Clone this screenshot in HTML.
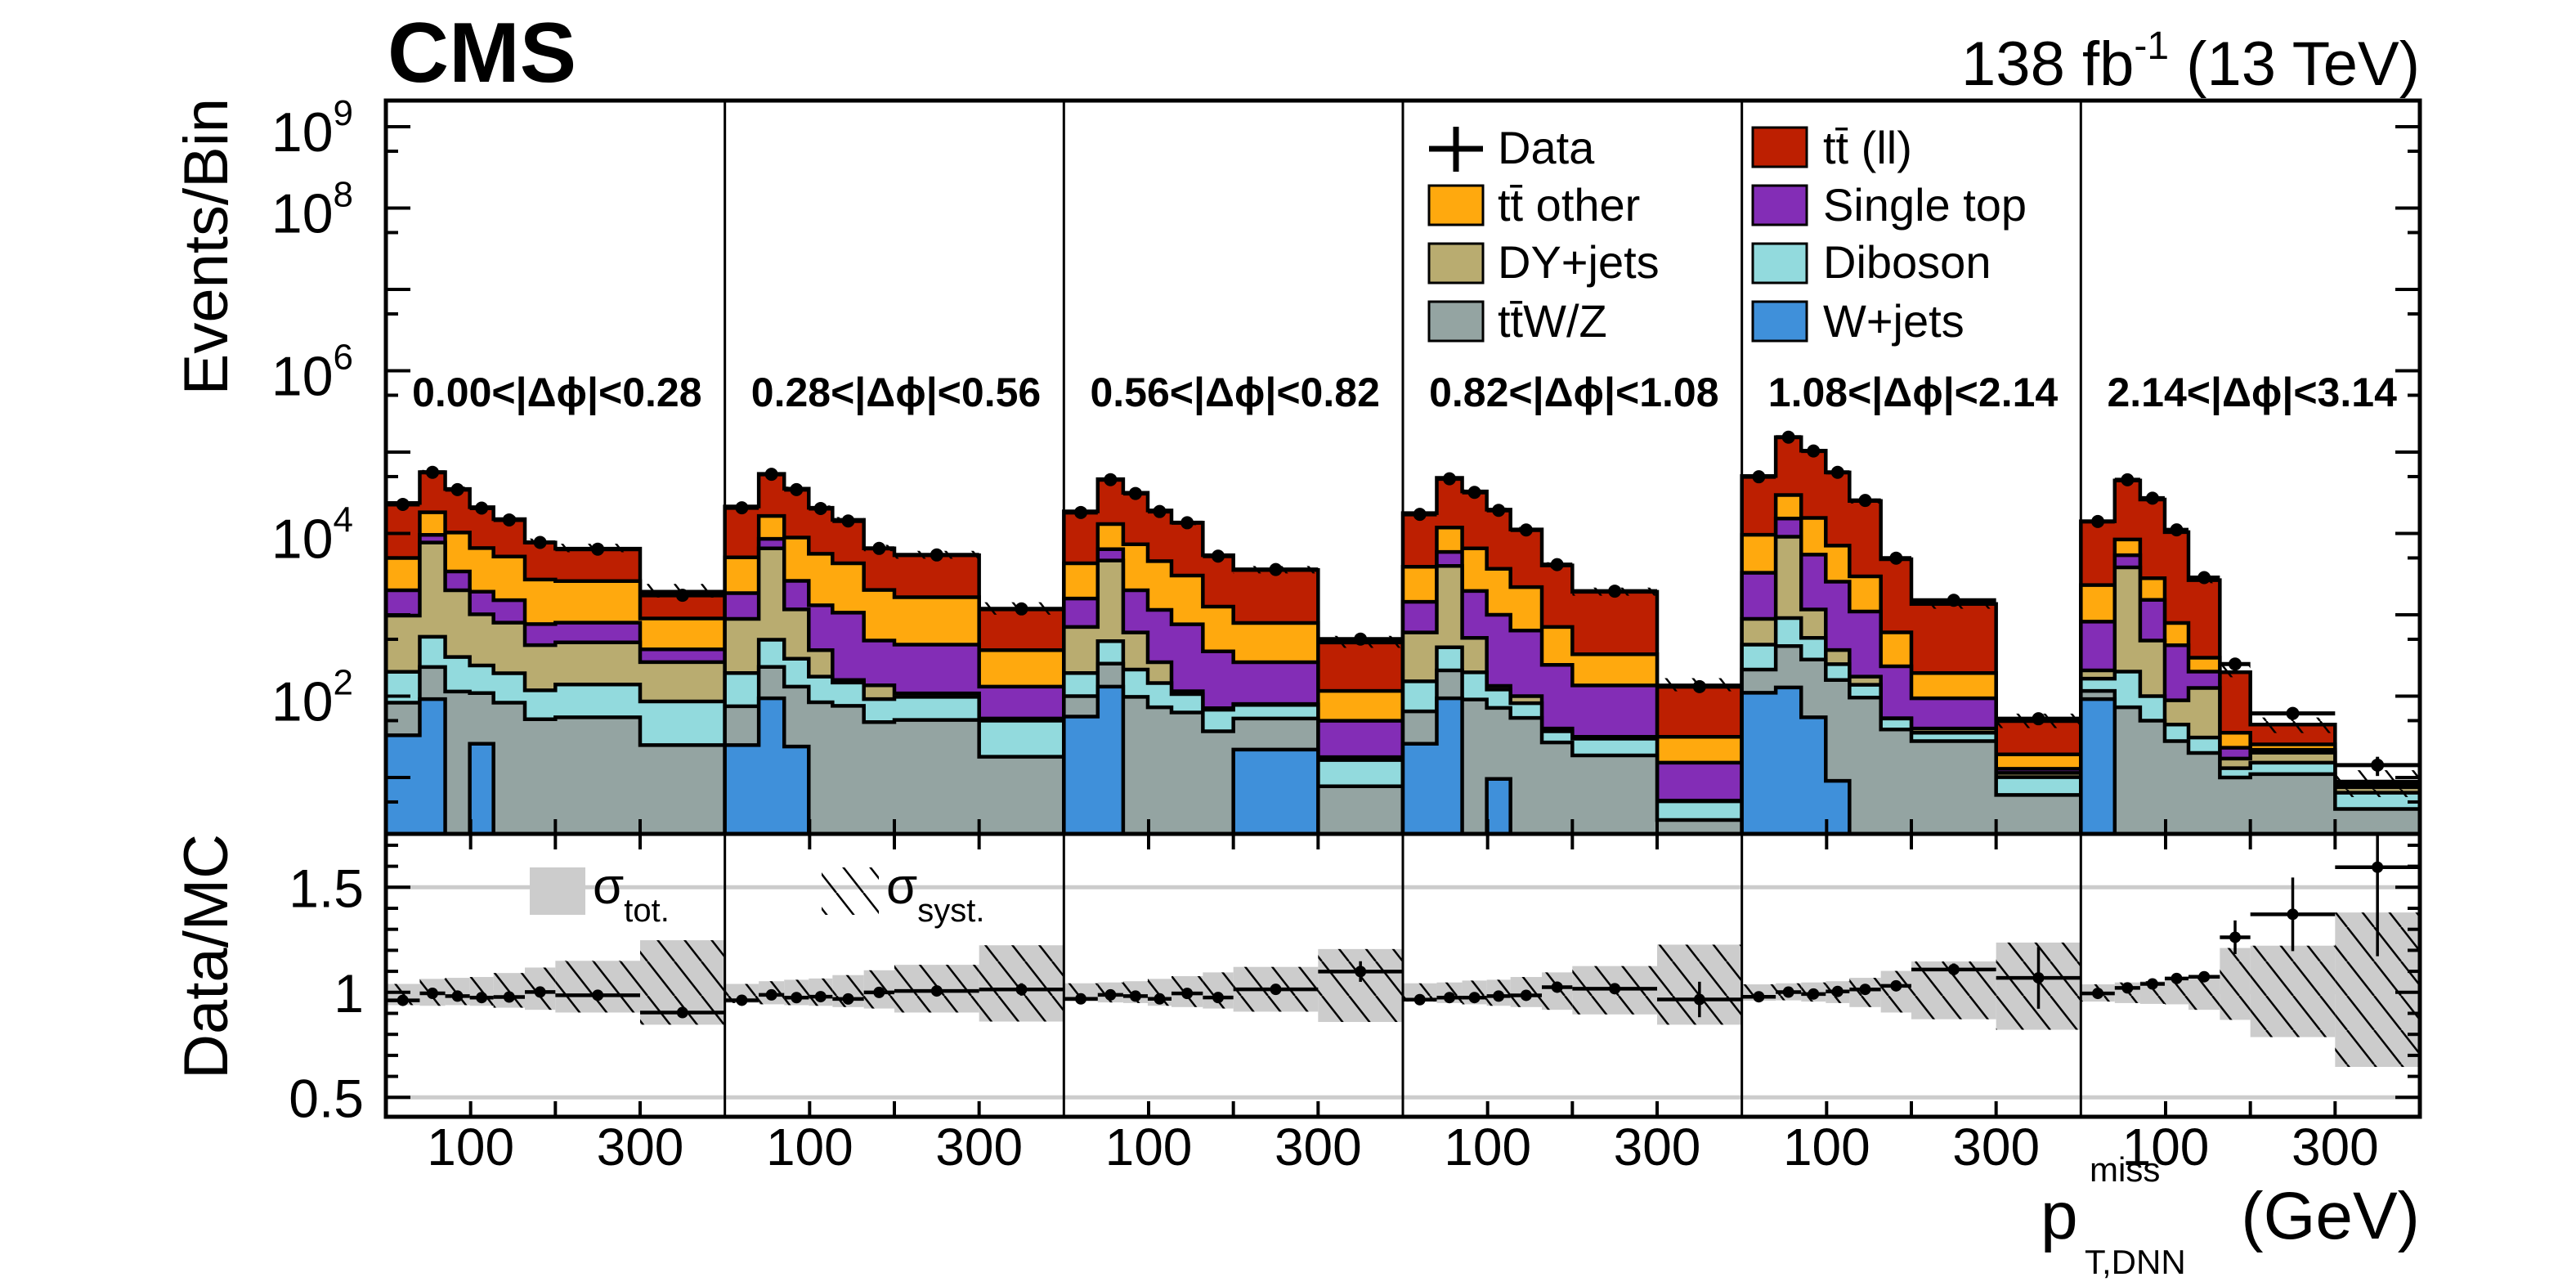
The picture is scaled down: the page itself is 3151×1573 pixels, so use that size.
<!DOCTYPE html>
<html><head><meta charset="utf-8">
<style>
html,body{margin:0;padding:0;background:#fff;}
svg{display:block;font-family:"Liberation Sans",Arial,sans-serif;}
</style></head>
<body>
<svg id="chart" xmlns="http://www.w3.org/2000/svg" width="3151" height="1573" viewBox="0 0 3151 1573">
<defs>
<clipPath id="clipUp"><rect x="472" y="123" width="2488" height="897"/></clipPath>
<clipPath id="clipRatio"><rect x="472" y="1020" width="2488" height="346"/></clipPath>
<pattern id="hatch" patternUnits="userSpaceOnUse" width="33" height="42">
<line x1="0" y1="0" x2="33" y2="42" stroke="#000" stroke-width="2.5"/>
<line x1="-33" y1="0" x2="0" y2="42" stroke="#000" stroke-width="2.5"/>
<line x1="33" y1="0" x2="66" y2="42" stroke="#000" stroke-width="2.5"/>
</pattern>
</defs>
<rect x="0" y="0" width="3151" height="1573" fill="#fff"/>
<g id="gridR"></g>
<g id="bandR" clip-path="url(#clipRatio)"></g>
<g id="stack" clip-path="url(#clipUp)"></g>
<g id="hatchUp" clip-path="url(#clipUp)"></g>
<g id="dataUp" clip-path="url(#clipUp)"></g>
<g id="dataR" clip-path="url(#clipRatio)"></g>
<g id="axes"></g>

<text x="474" y="100" font-size="104" font-weight="bold">CMS</text>
<text x="2960" y="104" font-size="76" text-anchor="end">138 fb<tspan dy="-32" font-size="48">-1</tspan><tspan dy="32"> (13 TeV)</tspan></text>
<text transform="translate(278,120) rotate(-90)" text-anchor="end" font-size="76">Events/Bin</text>
<text transform="translate(278,1020) rotate(-90)" text-anchor="end" font-size="76">Data/MC</text>
<g>
<text x="2496" y="1515" font-size="82">p</text>
<text x="2556" y="1445" font-size="42">miss</text>
<text x="2550" y="1558" font-size="42">T,DNN</text>
<text x="2960" y="1515" font-size="82" text-anchor="end">(GeV)</text>
</g>

<g font-size="56">
<g><line x1="1748" y1="182" x2="1814" y2="182" stroke="#000" stroke-width="7"/><line x1="1781" y1="155" x2="1781" y2="210" stroke="#000" stroke-width="7"/><text x="1832" y="200">Data</text></g>
<g><rect x="1748" y="227" width="66" height="48" fill="#ffa90e" stroke="#000" stroke-width="3"/><text x="1832" y="270">tt̄ other</text></g>
<g><rect x="1748" y="298" width="66" height="48" fill="#b9ac70" stroke="#000" stroke-width="3"/><text x="1832" y="340">DY+jets</text></g>
<g><rect x="1748" y="369" width="66" height="48" fill="#94a4a2" stroke="#000" stroke-width="3"/><text x="1832" y="412">tt̄W/Z</text></g>
<g><rect x="2144" y="156" width="66" height="48" fill="#bd1f01" stroke="#000" stroke-width="3"/><text x="2230" y="200">tt̄ (ll)</text></g>
<g><rect x="2144" y="227" width="66" height="48" fill="#832db6" stroke="#000" stroke-width="3"/><text x="2230" y="270">Single top</text></g>
<g><rect x="2144" y="298" width="66" height="48" fill="#92dadd" stroke="#000" stroke-width="3"/><text x="2230" y="340">Diboson</text></g>
<g><rect x="2144" y="369" width="66" height="48" fill="#3f90da" stroke="#000" stroke-width="3"/><text x="2230" y="412">W+jets</text></g>
</g>

<g>
<rect x="648" y="1061" width="68" height="58" fill="#cccccc"/>
<text x="725" y="1105" font-size="62">σ<tspan dy="22" font-size="40">tot.</tspan></text>
<rect x="1005" y="1061" width="70" height="58" fill="url(#hatch)"/>
<text x="1084" y="1105" font-size="62">σ<tspan dy="22" font-size="40">syst.</tspan></text>
</g>
</svg>

<script>
// ---- data (6 panels x 8 bins) ----
const binEdges = [0,40,70,99,127,164,200,300,400];
const panelLabels = ["0.00<|Δϕ|<0.28","0.28<|Δϕ|<0.56","0.56<|Δϕ|<0.82","0.82<|Δϕ|<1.08","1.08<|Δϕ|<2.14","2.14<|Δϕ|<3.14"];
const xTickValues = [100,200,300];
const xTickLabels = ["100","","300"];
const yLogTicks = [1,2,3,4,5,6,7,8,9];
const yLogLabels = ["","2","","4","","6","","8","9"];
const ratioTicks = [0.5,1,1.5];
const ratioTickLabels = ["0.5","1","1.5"];

const wjets = [33,92,0,26,0,0,0,0, 25,94,24,0,0,0,0,0, 56,131,0,0,0,0,22,0, 26,94,0,9.6,0,0,0,0, 110,128,55,9.1,0,0,0,0, 92,0,0,0,0,0,0,0];
const ttwz = [50,136,114,83,83,52,55,25, 50,135,107,84,76,48,51,18, 44,120,98,73,63,37,31,7.8, 39,113,91,62,54,27,18.7,3.0, 102,285,227,149,96,39,28,6.1, 24,73,50,28,20,10,11,4.1];
const diboson = [116,309,189,129,108,66,84,61, 117,265,157,90,71,44,47,32, 92,223,114,72,43,31,25,8.6, 87,191,105,49,28,10,11.3,2.1, 218,499,238,89,42,14,7.5,4, 48,127,50,16.7,11,3,4.2,2.4];
const dyjets = [778,7200,1700,778,609,305,319,176, 698,6070,878,194,11,44,10,3, 516,4166,395,116,9,3,2,1.4, 455,3582,324,13,18,3,1.6,0.1, 461,8208,644,121,36,0.5,4.5,1.3, 43,3630,382,44,95,4.1,5,1.1];
const singletop = [1023,1870,1410,907,713,346,342,114, 958,2010,1444,939,904,346,322,78, 877,1760,1393,887,649,284,181,32, 838,1950,1443,866,540,202,104,10, 2389,6120,4336,2182,922,179,54,1.4, 617,1570,1042,334,74,6.1,1.7,0.4];
const ttother = [3000,8590,6840,4680,3690,1940,1800,526, 3240,7830,6290,4320,3240,1540,1214,237, 2715,6660,5350,3420,2276,904,533,66, 2455,5900,4587,2680,1550,466,192,16.4, 6340,14460,10000,4530,1874,375,98,6.4, 1496,3030,1296,371,97,12.3,3.6,0.4];
const ttll = [18660,38500,24950,14400,9800,5030,3900,1021, 16400,37600,26600,15070,10400,4530,3760,797, 14400,33340,24250,14630,10560,4140,2756,341, 13900,36370,26250,15920,9010,3332,1592,104, 41180,122700,88500,49100,22130,4213,1168,30.1, 11780,36270,23280,9590,2370,161,19.2,0.5];
const dataCounts = [22760,56420,34570,20480,14670,7750,6410,1738, 20680,53350,34610,20270,14240,6550,5440,1181, 18120,45840,31030,18600,13530,5265,3600,502, 17180,47000,31980,19250,11040,4140,1953,131, 49730,152550,103170,56420,25450,4970,1508,52.7, 14030,45640,27140,11070,2865,248,61.3,14.2];
const uncUp = [.040,.064,.069,.073,.092,.118,.150,.248, .040,.053,.060,.066,.082,.105,.131,.224, .043,.047,.053,.064,.077,.095,.121,.206, .043,.047,.056,.060,.073,.095,.125,.227, .038,.043,.047,.053,.069,.102,.147,.237, .038,.047,.053,.060,.066,.211,.222,.380];
const uncDn = [.061,.064,.061,.064,.073,.083,.096,.154, .051,.057,.061,.064,.070,.077,.096,.139, .044,.048,.051,.064,.070,.077,.092,.141, .044,.051,.057,.064,.070,.083,.105,.154, .040,.038,.044,.051,.070,.096,.128,.178, .044,.051,.055,.057,.083,.131,.213,.355];

const processes = [
  {name:"wjets", vals:wjets, color:"#3f90da"},
  {name:"ttwz", vals:ttwz, color:"#94a4a2"},
  {name:"diboson", vals:diboson, color:"#92dadd"},
  {name:"dy-jets", vals:dyjets, color:"#b9ac70"},
  {name:"single-top", vals:singletop, color:"#832db6"},
  {name:"tt-other", vals:ttother, color:"#ffa90e"},
  {name:"tt-ll", vals:ttll, color:"#bd1f01"}
];

const NS="http://www.w3.org/2000/svg";
const XL=472, XR=2960, YT=123, YB=1020, RB=1366, NP=6, NB=8;
const PW=(XR-XL)/NP;
function X(p,g){return XL+p*PW+g/400*PW;}
function Y(v){const l=Math.log10(Math.max(v,1e-4));return 851.5-99.5*(l-2);}
function R(r){return 1213.8-257*(r-1);}
function mk(tag,attrs,parent){const e=document.createElementNS(NS,tag);for(const k in attrs)e.setAttribute(k,attrs[k]);parent.appendChild(e);return e;}

const stackG=document.getElementById('stack');
const hatchG=document.getElementById('hatchUp');
const dataG=document.getElementById('dataUp');
const bandG=document.getElementById('bandR');
const dataRG=document.getElementById('dataR');
const gridG=document.getElementById('gridR');
const axesG=document.getElementById('axes');

const nTot=dataCounts.length;
const total=[];
for(let i=0;i<nTot;i++){let s=0;for(const pr of processes)s+=pr.vals[i];total.push(s);}

for(let k=processes.length-1;k>=0;k--){
  for(let p=0;p<NP;p++){
    let d="M"+X(p,0)+","+(YB+20);
    for(let b=0;b<NB;b++){
      const i=p*NB+b;let c=0;for(let j=0;j<=k;j++)c+=processes[j].vals[i];
      const y=Math.min(Y(c),YB+20);
      d+=" L"+X(p,binEdges[b])+","+y+" L"+X(p,binEdges[b+1])+","+y;
    }
    d+=" L"+X(p,400)+","+(YB+20)+" Z";
    const path=mk('path',{d:d,fill:processes[k].color,stroke:"#000","stroke-width":4.5,"stroke-linejoin":"miter"},stackG);
    
    
  }
}

for(let i=0;i<nTot;i++){
  const p=Math.floor(i/NB), b=i%NB;
  const x0=X(p,binEdges[b]), x1=X(p,binEdges[b+1]);
  const yU=Y(total[i]*(1+uncUp[i])), yD=Y(total[i]*(1-uncDn[i]));
  const h=mk('rect',{x:x0,y:yU,width:x1-x0,height:Math.max(yD-yU,1),fill:"url(#hatch)"},hatchG);
  
  
  const rU=R(1+uncUp[i]), rD=R(1-uncDn[i]);
  const band=mk('rect',{x:x0,y:rU,width:x1-x0,height:rD-rU,fill:"#cccccc"},bandG);
  
  
  const hb=mk('rect',{x:x0,y:rU,width:x1-x0,height:rD-rU,fill:"url(#hatch)"},bandG);
  
  
}

for(const r of ratioTicks){
  const l=mk('line',{x1:XL,x2:XR,y1:R(r),y2:R(r),stroke:"#cccccc","stroke-width":5},gridG);
  
  
}

for(let i=0;i<nTot;i++){
  const p=Math.floor(i/NB), b=i%NB;
  const x0=X(p,binEdges[b]), x1=X(p,binEdges[b+1]), xc=(x0+x1)/2;
  const d=dataCounts[i], e=Math.sqrt(d);
  const g=mk('g',{},dataG);
  
  
  mk('line',{x1:x0,x2:x1,y1:Y(d),y2:Y(d),stroke:"#000","stroke-width":5},g);
  mk('line',{x1:xc,x2:xc,y1:Y(d+e),y2:Y(Math.max(d-e,1e-3)),stroke:"#000","stroke-width":4},g);
  mk('circle',{cx:xc,cy:Y(d),r:8,fill:"#000"},g);
  const r=d/total[i], re=e/total[i];
  const g2=mk('g',{},dataRG);
  
  
  mk('line',{x1:x0,x2:x1,y1:R(r),y2:R(r),stroke:"#000","stroke-width":4.5},g2);
  mk('line',{x1:xc,x2:xc,y1:R(r+re),y2:R(r-re),stroke:"#000","stroke-width":3.5},g2);
  mk('circle',{cx:xc,cy:R(r),r:7,fill:"#000"},g2);
}

const fu=mk('rect',{x:XL,y:YT,width:XR-XL,height:YB-YT,fill:"none",stroke:"#000","stroke-width":5},axesG);


const fr=mk('rect',{x:XL,y:YB,width:XR-XL,height:RB-YB,fill:"none",stroke:"#000","stroke-width":5},axesG);


for(let p=1;p<NP;p++){
  const dv=mk('line',{x1:X(p,0),x2:X(p,0),y1:YT,y2:RB,stroke:"#000","stroke-width":3},axesG);
  
  
}

for(let p=0;p<NP;p++){
  const t=mk('text',{x:X(p,200)+2,y:497,"font-size":50,"font-weight":"bold","text-anchor":"middle"},axesG);
  t.textContent=panelLabels[p];
  
  
}

for(let p=0;p<NP;p++){
  xTickValues.forEach((v,j)=>{
    const x=X(p,v);
    mk('line',{x1:x,x2:x,y1:YB,y2:YB-18,stroke:"#000","stroke-width":4},axesG);
    mk('line',{x1:x,x2:x,y1:YB,y2:YB+19,stroke:"#000","stroke-width":4},axesG);
    mk('line',{x1:x,x2:x,y1:RB,y2:RB-19,stroke:"#000","stroke-width":4},axesG);
    if(xTickLabels[j]){
      const t=mk('text',{x:x,y:1425,"font-size":64,"text-anchor":"middle"},axesG);
      t.textContent=xTickLabels[j];
      
      
    }
  });
}

yLogTicks.forEach((n,j)=>{
  const y=Y(Math.pow(10,n));
  mk('line',{x1:XL,x2:XL+30,y1:y,y2:y,stroke:"#000","stroke-width":4},axesG);
  mk('line',{x1:XR,x2:XR-30,y1:y,y2:y,stroke:"#000","stroke-width":4},axesG);
  const ym=Y(5*Math.pow(10,n-1));
  if(ym<YB){
    mk('line',{x1:XL,x2:XL+15,y1:ym,y2:ym,stroke:"#000","stroke-width":4},axesG);
    mk('line',{x1:XR,x2:XR-15,y1:ym,y2:ym,stroke:"#000","stroke-width":4},axesG);
  }
  if(yLogLabels[j]){
    const t=mk('text',{x:432,y:y+30,"font-size":68,"text-anchor":"end"},axesG);
    
    
    const a=document.createElementNS(NS,'tspan');a.textContent="10";t.appendChild(a);
    const s=document.createElementNS(NS,'tspan');s.setAttribute('dy',-32);s.setAttribute('font-size',44);s.textContent=yLogLabels[j];t.appendChild(s);
  }
});

for(let k=4;k<=17;k++){
  const r=k/10, y=R(r);
  if(y<YB||y>RB)continue;
  const major=(k%5===0);
  const L=major?30:15;
  mk('line',{x1:XL,x2:XL+L,y1:y,y2:y,stroke:"#000","stroke-width":4},axesG);
  mk('line',{x1:XR,x2:XR-L,y1:y,y2:y,stroke:"#000","stroke-width":4},axesG);
}
ratioTicks.forEach((r,j)=>{
  const t=mk('text',{x:445,y:R(r)+24,"font-size":66,"text-anchor":"end"},axesG);
  t.textContent=ratioTickLabels[j];
  
  
});
</script>
</body></html>
